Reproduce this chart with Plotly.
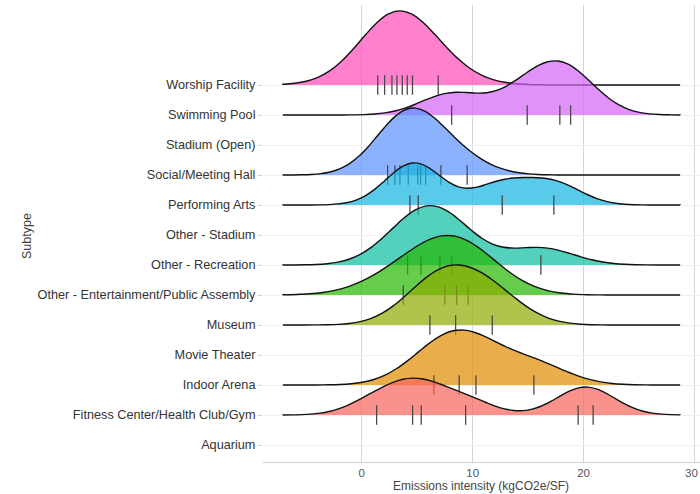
import plotly.graph_objects as go

# Category order on the y axis (bottom -> top)
categories = [
    "Aquarium",
    "Fitness Center/Health Club/Gym",
    "Indoor Arena",
    "Movie Theater",
    "Museum",
    "Other - Entertainment/Public Assembly",
    "Other - Recreation",
    "Other - Stadium",
    "Performing Arts",
    "Social/Meeting Hall",
    "Stadium (Open)",
    "Swimming Pool",
    "Worship Facility",
]

worship = [1.45, 2.07, 2.73, 3.18, 3.66, 4.11, 4.58, 6.9]
swimming = [8.11, 14.92, 17.86, 18.83]
social = [2.34, 3.0, 3.45, 4.2, 5.05, 5.31, 5.77, 7.14, 9.51]
performing = [4.35, 5.1, 12.67, 17.32]
other_rec = [4.14, 5.34, 7.05, 8.11, 16.15]
other_ent = [3.75, 7.5, 8.56, 9.6]
museum = [6.15, 8.47, 11.77]
indoor = [6.51, 8.79, 10.3, 15.52]
fitness = [1.35, 4.59, 5.37, 9.37, 19.51, 20.86]

# Ridge rows, drawn top to bottom (lower ridges in front)
ridge_rows = ["Worship Facility", "Swimming Pool", "Social/Meeting Hall", "Performing Arts",
              "Other - Recreation", "Other - Entertainment/Public Assembly", "Museum",
              "Indoor Arena", "Fitness Center/Health Club/Gym"]
ridge_values = [worship, swimming, social, performing, other_rec, other_ent, museum, indoor, fitness]
# peak height of each density ridge, in row units
ridge_peak = [2.47, 1.80, 2.23, 1.40, 1.97, 1.97, 2.00, 1.83, 1.23]
ridge_bw = [3.2, 2.8, 2.6, 2.5, 3.0, 3.6, 3.0, 3.1, 2.5]
ridge_colors = [
    "rgba(255,74,182,0.7)",
    "rgba(212,100,245,0.7)",
    "rgba(91,145,255,0.7)",
    "rgba(20,180,225,0.7)",
    "rgba(10,190,160,0.7)",
    "rgba(36,183,0,0.7)",
    "rgba(140,171,0,0.7)",
    "rgba(225,138,0,0.7)",
    "rgba(245,100,90,0.7)",
]
density_span = [-7.1, 28.7]

x_ticks = [0, 10, 20, 30]
x_ticktext = ["0", "10", "20", ""]   # "30" is drawn as an annotation so it is not clipped

fig = go.Figure()
for name, vals, peak, bw, col in zip(ridge_rows, ridge_values, ridge_peak, ridge_bw, ridge_colors):
    pos = categories.index(name) + 1
    fig.add_trace(go.Violin(
        x=vals, y0=pos, orientation="h", side="positive",
        width=2 * peak, bandwidth=bw, spanmode="manual", span=density_span,
        scalemode="width", scalegroup=name,
        fillcolor=col, line=dict(color="#111111", width=1.4),
        points="all", pointpos=0, jitter=0,
        marker=dict(symbol="line-ns", size=14, color="#444444",
                    line=dict(width=1.3, color="#4a4a4a")),
        box_visible=False, meanline_visible=False, showlegend=False, name=name,
    ))

fig.update_layout(
    width=700, height=494,
    margin=dict(l=263, r=0, t=5, b=32),
    paper_bgcolor="white", plot_bgcolor="white",
    font=dict(family="Liberation Sans, Arial, sans-serif", size=12.7, color="#444444"),
    xaxis=dict(range=[-8.89, 30.49], tickvals=x_ticks, ticktext=x_ticktext,
               showgrid=True, gridcolor="#D6D6D6",
               gridwidth=1, zeroline=False, showline=True, linecolor="#CFCFCF", linewidth=1,
               ticks="", tickfont=dict(size=11.5, color="#555555")),
    yaxis=dict(range=[0.4333, 15.667], tickvals=list(range(1, len(categories) + 1)),
               ticktext=categories, showgrid=True, gridcolor="#EFEFEF", zeroline=False,
               ticks="outside", ticklen=4, tickcolor="#CFCFCF",
               tickfont=dict(size=12.7, color="#333333")),
    annotations=[
        dict(text="30", x=1.0, y=-0.0241, xref="paper", yref="paper", showarrow=False,
             font=dict(size=11.5, color="#555555"), xanchor="right", yanchor="middle"),
        dict(text="Emissions intensity (kgCO2e/SF)", x=0.4989, y=-0.0525, xref="paper",
             yref="paper", showarrow=False, font=dict(size=12, color="#444444"),
             xanchor="center", yanchor="middle"),
        dict(text="Subtype", x=-0.540, y=0.4945, xref="paper", yref="paper", textangle=-90,
             showarrow=False, font=dict(size=12.5, color="#444444"),
             xanchor="center", yanchor="middle"),
    ],
)

# remove the default page margin so the 700x494 figure fills the window exactly
fig.write_html("out.html", config={"displayModeBar": False},
               post_script="document.body.style.margin='0';document.body.style.overflow='hidden';")
